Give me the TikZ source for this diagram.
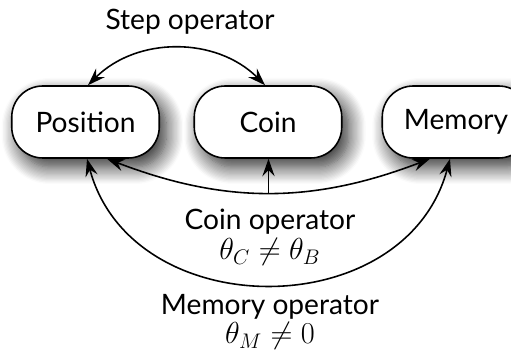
\documentclass[tikz,border=0pt]{standalone}
\usepackage{fontspec}
\setmainfont{Lato}
\usetikzlibrary{arrows.meta}
\usetikzlibrary{shadows.blur}

\tikzset{
  tip/.tip={Stealth[length=10pt,width=7pt,inset=3.5pt]},
  state/.style={draw, line width=.9pt, fill=white, rounded corners=.62cm,
    minimum width=2.95cm, minimum height=1.44cm,
    blur shadow={shadow xshift=.14cm, shadow yshift=-.18cm,
      shadow blur radius=.34cm, shadow blur steps=14, shadow opacity=85},
    font=\fontsize{16}{19}\selectfont},
  op/.style={line width=.9pt, tip-tip},
  lab/.style={font=\fontsize{16}{19}\selectfont},
  eq/.style={font=\fontsize{17.5}{20}\selectfont}
}

\begin{document}
\begin{tikzpicture}
\useasboundingbox (0,0) rectangle (10.22,7.02);
\node[state] (pos) at (1.71,4.58) {Position};
\node[state] (coin) at (5.36,4.58) {Coin};
\node[state] (mem) at (9.12,4.58) {Memory};
\draw[op] ([xshift=.05cm]pos.north) to[bend left=45] ([xshift=-.06cm]coin.north);
\draw[op] ([xshift=.43cm]pos.south) to[bend right=21] coordinate[pos=.5] (mid) ([xshift=-.52cm]mem.south);
\draw[line width=.9pt, -tip] (mid) -- (mid |- coin.south);
\draw[op] ([xshift=.03cm]pos.south) to[out=-75, in=-105, looseness=1.22] ([xshift=-.12cm]mem.south);
\node[lab] (step) at (3.80,6.58) {Step operator};
\node[lab] (cop) at (5.40,2.58) {Coin operator};
\node[eq] (cth) at (5.40,1.98) {$\theta_C \neq \theta_B$};
\node[lab] (mop) at (5.40,0.88) {Memory operator};
\node[eq] (mth) at (5.40,0.30) {$\theta_M \neq 0$};
\end{tikzpicture}
\end{document}
